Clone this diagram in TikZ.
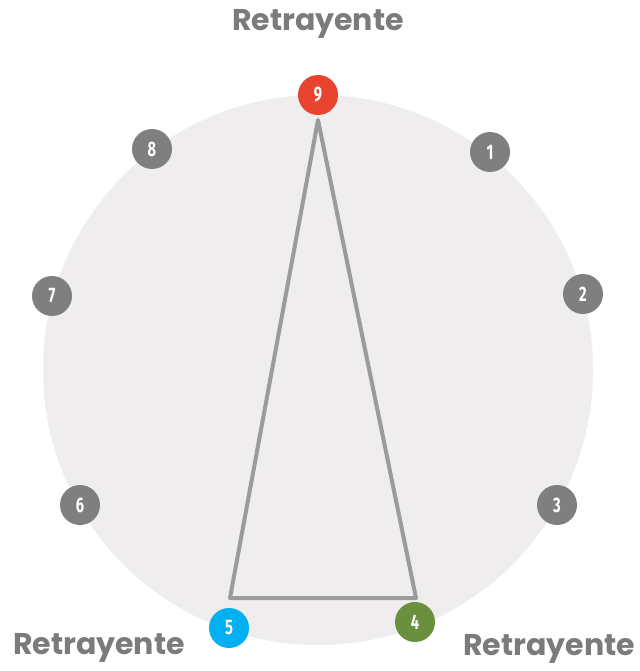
\documentclass[tikz,border=0pt]{standalone}
\usepackage{fontspec}
\setmainfont{Poppins}
\newfontfamily\digitfont[FakeStretch=0.7]{Fira Sans}
\usepackage{xcolor}
\usetikzlibrary{positioning}
\definecolor{dotgray}{HTML}{7F7F7F}
\definecolor{dotred}{HTML}{E8432F}
\definecolor{dotblue}{HTML}{00B0F0}
\definecolor{dotgreen}{HTML}{6A8F3D}
\definecolor{disc}{HTML}{EFEDEE}
\definecolor{linegray}{HTML}{9B9B9B}
\definecolor{labelgray}{HTML}{7B7B7B}
\tikzset{
    point/.style={circle, fill=dotgray, minimum size=40pt, inner sep=0pt, text=white, font=\digitfont\bfseries\fontsize{21}{21}\selectfont},
    title/.style={text=labelgray, font=\bfseries\fontsize{30}{30}\selectfont, inner sep=0pt}
}

\begin{document}
\begin{tikzpicture}[x=1pt, y=-1pt]
    \useasboundingbox (0,0) rectangle (639,671);
    \fill[white] (0,0) rectangle (639,671);
    \fill[disc] (318,370) circle (275);

    \node[point, fill=dotred] (9) at (318,95) {9};
    \node[point] (1) at (490,152) {1};
    \node[point] (2) at (583,294) {2};
    \node[point] (3) at (557,505) {3};
    \node[point, fill=dotgreen] (4) at (415,622) {4};
    \node[point, fill=dotblue] (5) at (229,628) {5};
    \node[point] (6) at (80,505) {6};
    \node[point] (7) at (52,296) {7};
    \node[point] (8) at (152,149) {8};

    % triangle joining the three corners
    \coordinate (top) at (318,120);
    \coordinate (left) at (230,598);
    \coordinate (right) at (416,598);
    \draw[linegray, line width=4pt, line join=round] (top) -- (left) -- (right) -- cycle;

    \node[title] (t9) at (318,24) {Retrayente};
    \node[title] (t5) at (99,648) {Retrayente};
    \node[title] (t4) at (549,649) {Retrayente};
\end{tikzpicture}
\end{document}
